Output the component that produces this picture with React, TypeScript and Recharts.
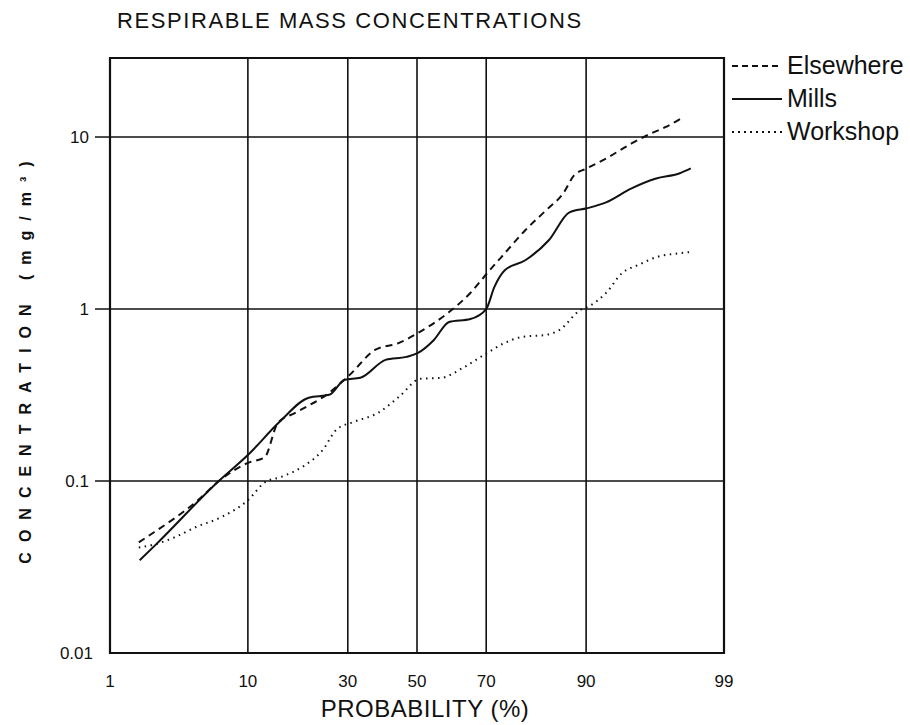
import { LineChart, Line, XAxis, YAxis, CartesianGrid, ReferenceArea, Label } from "recharts";

const FONT = '"Liberation Sans", Arial, Helvetica, sans-serif';
const INK = "#111";

// axis ticks
const probTicks = [1, 10, 30, 50, 70, 90, 99];
const concTicks = [0.01, 0.1, 1, 10];
const concTop = 28.8;

// series: cumulative probability (%) vs concentration (mg/m3)
const elsewhereProb = [1.75, 2.1, 4.9, 6.5, 10.1, 12.4, 14.6, 17.8, 25.3, 30.5, 37.5, 44.6, 50.3, 59.6, 65.7, 70.3, 74.7, 79.4, 83.6, 86.6, 88.3, 90.1, 92.4, 94.8, 96.2, 97.0, 97.8];
const elsewhereConc = [0.044, 0.048, 0.078, 0.098, 0.128, 0.137, 0.218, 0.249, 0.326, 0.414, 0.578, 0.635, 0.726, 0.96, 1.24, 1.62, 2.11, 2.87, 3.75, 4.7, 5.98, 6.57, 7.5, 9.17, 10.5, 11.4, 13.0];

const millsProb = [1.78, 2.4, 6.5, 10.1, 14.9, 20.6, 25.3, 29.2, 33.4, 40.6, 46.8, 50.3, 55.1, 59.6, 65.7, 70.0, 72.1, 74.7, 79.4, 84.1, 87.6, 90.1, 92.4, 94.8, 96.5, 97.65, 98.1];
const millsConc = [0.0346, 0.0428, 0.098, 0.143, 0.221, 0.305, 0.317, 0.388, 0.398, 0.506, 0.527, 0.556, 0.661, 0.841, 0.875, 1.0, 1.34, 1.68, 1.92, 2.51, 3.65, 3.85, 4.17, 5.03, 5.74, 6.14, 6.57];

const workshopProb = [1.75, 2.4, 3.3, 4.7, 7.0, 10.1, 12.4, 15.3, 19.3, 23.8, 27.1, 31.7, 38.4, 44.6, 51.0, 57.4, 63.6, 70.3, 74.7, 78.8, 83.6, 86.0, 89.2, 90.4, 92.4, 94.0, 95.3, 96.5, 97.65, 98.05];
const workshopConc = [0.041, 0.043, 0.047, 0.054, 0.062, 0.078, 0.098, 0.106, 0.121, 0.152, 0.199, 0.221, 0.249, 0.309, 0.393, 0.398, 0.455, 0.556, 0.635, 0.689, 0.707, 0.756, 0.987, 1.04, 1.24, 1.62, 1.8, 2.0, 2.11, 2.14];

// inverse normal CDF (Acklam) -> probability paper axis
function probit(p: number): number {
  const a = [-39.69683028665376, 220.9460984245205, -275.9285104469687, 138.357751867269, -30.66479806614716, 2.506628277459239];
  const b = [-54.47609879822406, 161.5858368580409, -155.6989798598866, 66.80131188771972, -13.28068155288572];
  const c = [-0.007784894002430293, -0.3223964580411365, -2.400758277161838, -2.549732539343734, 4.374664141464968, 2.938163982698783];
  const d = [0.007784695709041462, 0.3224671290700398, 2.445134137142996, 3.754408661907416];
  const lo = 0.02425;
  if (p < lo) {
    const q = Math.sqrt(-2 * Math.log(p));
    return (((((c[0] * q + c[1]) * q + c[2]) * q + c[3]) * q + c[4]) * q + c[5]) / ((((d[0] * q + d[1]) * q + d[2]) * q + d[3]) * q + 1);
  }
  if (p <= 1 - lo) {
    const q = p - 0.5;
    const r = q * q;
    return ((((((a[0] * r + a[1]) * r + a[2]) * r + a[3]) * r + a[4]) * r + a[5]) * q) / (((((b[0] * r + b[1]) * r + b[2]) * r + b[3]) * r + b[4]) * r + 1);
  }
  const q = Math.sqrt(-2 * Math.log(1 - p));
  return -(((((c[0] * q + c[1]) * q + c[2]) * q + c[3]) * q + c[4]) * q + c[5]) / ((((d[0] * q + d[1]) * q + d[2]) * q + d[3]) * q + 1);
}

const toRows = (probs: number[], concs: number[]) =>
  probs.map((p, i) => ({ z: probit(p / 100), conc: concs[i] }));

const elsewhereData = toRows(elsewhereProb, elsewhereConc);
const millsData = toRows(millsProb, millsConc);
const workshopData = toRows(workshopProb, workshopConc);

const zTicks = probTicks.map((p) => probit(p / 100));
const zMin = zTicks[0];
const zMax = zTicks[zTicks.length - 1];

const probLabel = (z: number) => {
  let best = 0;
  zTicks.forEach((t, i) => {
    if (Math.abs(t - z) < Math.abs(zTicks[best] - z)) best = i;
  });
  return String(probTicks[best]);
};

const XTick = (props: any) => {
  const { x, y, payload } = props;
  return (
    <text x={x} y={y + 34} textAnchor="middle" fontSize={17} fill={INK} fontFamily={FONT}>
      {probLabel(payload.value)}
    </text>
  );
};

const YTick = (props: any) => {
  const { x, y, payload } = props;
  const v = payload.value;
  const bottom = v === concTicks[0];
  return (
    <g>
      {!bottom && <line x1={x - 15} x2={x} y1={y} y2={y} stroke={INK} strokeWidth={1.5} />}
      <text x={bottom ? x - 17 : x - 21} y={y + 6} textAnchor="end" fontSize={17} fill={INK} fontFamily={FONT}>
        {String(v)}
      </text>
    </g>
  );
};

const series = [
  { name: "Elsewhere", data: elsewhereData, dash: "7 5", legendDash: "6 4" },
  { name: "Mills", data: millsData, dash: undefined, legendDash: undefined },
  { name: "Workshop", data: workshopData, dash: "1.5 4.5", legendDash: "2 4" },
];

export default function App() {
  return (
    <div style={{ position: "absolute", left: 0, top: 0, width: 910, height: 725, background: "#fff", fontFamily: FONT }}>
      <div style={{ position: "absolute", left: 117, top: 8, fontSize: 22, lineHeight: "26px", letterSpacing: 1.6, color: INK, whiteSpace: "nowrap" }}>
        RESPIRABLE MASS CONCENTRATIONS
      </div>

      <LineChart width={910} height={725} margin={{ top: 58, right: 186, bottom: 42, left: 50 }}>
        <CartesianGrid stroke={INK} strokeWidth={1.6} />
        <XAxis
          type="number"
          dataKey="z"
          domain={[zMin, zMax]}
          ticks={zTicks}
          allowDataOverflow
          height={30}
          axisLine={false}
          tickLine={false}
          tickSize={0}
          tickMargin={0}
          tick={<XTick />}
          interval={0}
        >
          <Label
            content={(p: any) => {
              const vb = p.viewBox;
              return (
                <text x={vb.x + vb.width / 2 + 8} y={vb.y + 64} textAnchor="middle" fontSize={24} letterSpacing={0.5} fill={INK} fontFamily={FONT}>
                  PROBABILITY (%)
                </text>
              );
            }}
          />
        </XAxis>
        <YAxis
          type="number"
          scale="log"
          domain={[concTicks[0], concTop]}
          ticks={concTicks}
          allowDataOverflow
          width={60}
          axisLine={false}
          tickLine={false}
          tickSize={0}
          tickMargin={0}
          tick={<YTick />}
          interval={0}
        >
          <Label
            content={(p: any) => {
              const vb = p.viewBox;
              const cx = vb.x - 25;
              const cy = vb.y + vb.height / 2 + 2;
              return (
                <text
                  x={cx}
                  y={cy}
                  transform={`rotate(-90 ${cx} ${cy})`}
                  textAnchor="middle"
                  dominantBaseline="central"
                  fontSize={16}
                  fontWeight="bold"
                  letterSpacing={10}
                  fill={INK}
                  fontFamily={FONT}
                >
                  CONCENTRATION (mg/m³)
                </text>
              );
            }}
          />
        </YAxis>
        <ReferenceArea x1={zMin} x2={zMax} y1={concTicks[0]} y2={concTop} fill="none" stroke={INK} strokeWidth={2.2} ifOverflow="visible" />
        {series.map((s) => (
          <Line
            key={s.name}
            data={s.data}
            dataKey="conc"
            name={s.name}
            type="monotone"
            stroke={INK}
            strokeWidth={2}
            strokeDasharray={s.dash}
            dot={false}
            activeDot={false}
            isAnimationActive={false}
          />
        ))}
      </LineChart>

      <div style={{ position: "absolute", left: 730, top: 49, color: INK }}>
        {series.map((s) => (
          <div key={s.name} style={{ display: "flex", alignItems: "center", height: 33 }}>
            <svg width={54} height={10} style={{ marginRight: 3 }}>
              <line x1={2} x2={52} y1={5} y2={5} stroke={INK} strokeWidth={2} strokeDasharray={s.legendDash} />
            </svg>
            <span style={{ fontSize: 25, lineHeight: "33px", whiteSpace: "nowrap" }}>{s.name}</span>
          </div>
        ))}
      </div>
    </div>
  );
}
